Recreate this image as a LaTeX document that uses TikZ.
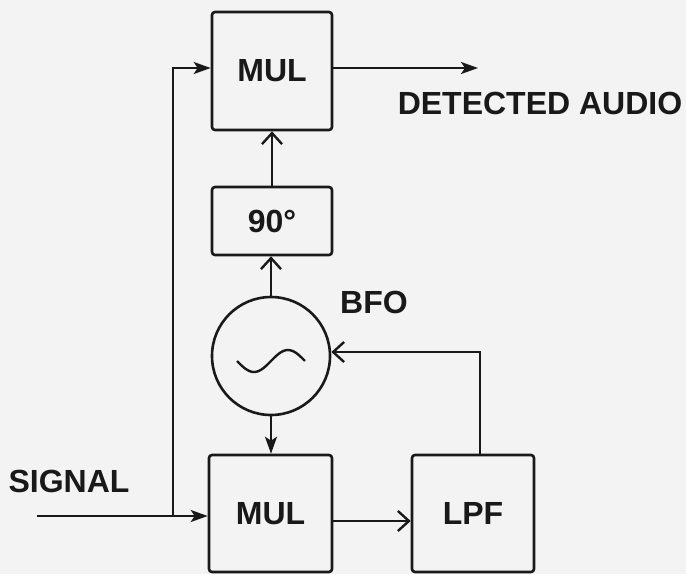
\documentclass[tikz,border=0pt]{standalone}
\usepackage{fontspec}
\setmainfont{Liberation Sans}
\usetikzlibrary{arrows.meta}
\definecolor{bg}{RGB}{243,243,243}
\definecolor{ink}{RGB}{25,25,25}
\tikzset{
  blk/.style={draw=ink, line width=2.6pt, rounded corners=3pt, inner sep=0pt, text=ink, font=\fontsize{32}{36}\selectfont\bfseries},
  lbl/.style={text=ink, inner sep=0pt, font=\fontsize{32}{36}\selectfont\bfseries},
  wire/.style={draw=ink, line width=2.4pt},
  fill tip/.style={-{Stealth[length=17pt,width=12pt,inset=4pt]}},
  open tip/.style={-{Straight Barb[length=11pt,width=20pt,line width=2.4pt]}},
}
\begin{document}
\begin{tikzpicture}[x=1pt,y=-1pt]
\fill[bg] (0,0) rectangle (686,574);
\useasboundingbox (0,0) rectangle (686,574);

\node[blk, minimum width=120pt, minimum height=118pt] (mul1) at (272,71) {MUL};
\node[blk, minimum width=120pt, minimum height=68pt] (phase) at (272,221) {90\textdegree};
\node[draw=ink, line width=2.6pt, circle, minimum size=118pt, inner sep=0pt] (bfo) at (271,356) {};
\node[blk, minimum width=123pt, minimum height=117pt] (mul2) at (270.5,513.5) {MUL};
\node[blk, minimum width=122pt, minimum height=117pt] (lpf) at (473,513.5) {LPF};

\node[lbl] (sig) at (69,481) {SIGNAL};
\node[lbl] (det) at (540,103) {DETECTED AUDIO};
\node[lbl] (bfolbl) at (374,302) {BFO};

% sine in oscillator
\draw[wire] plot[domain=0:1, samples=40, smooth] ({237+68*\x},{361+11*sin(360*\x)});

\coordinate (sigin) at (37,516);
\coordinate (junc) at (173,516);
\coordinate (out) at (478,68);
\coordinate (lpftop) at (480,455);

\draw[wire, fill tip] (sigin) -- (mul2.west |- sigin);
\draw[wire, fill tip, line cap=rect] (junc) -- (junc |- out) -- (mul1.west |- out);
\draw[wire, fill tip] (mul1.east |- out) -- (out);
\draw[wire, open tip] (phase.north) -- (mul1.south);
\draw[wire, open tip] (bfo.north) -- (bfo.north |- phase.south);
\draw[wire, fill tip] (bfo.south) -- (bfo.south |- mul2.north);
\draw[wire, open tip] (mul2.east |- 0,521) -- (lpf.west |- 0,521);
\draw[wire, open tip, line cap=rect] (lpftop) -- (lpftop |- 0,352) -- (bfo.east |- 0,352);
\end{tikzpicture}
\end{document}
